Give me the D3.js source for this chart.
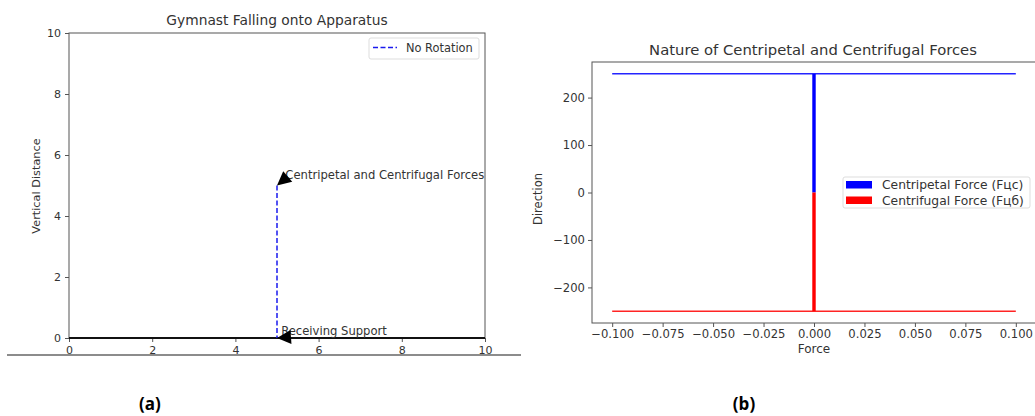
<!DOCTYPE html>
<head>
  <meta charset="utf-8">
  <script src="https://d3js.org/d3.v7.min.js"></script>
  <style>
    body { margin:0; background:#fff; }
    text { font-family: "DejaVu Sans", sans-serif; fill:#333; }
    .axis path, .axis line { stroke:#555; }
    .axis text { fill:#333; }
  </style>
</head>
<body>
  <script>
    // ---- panel (a) data
    var aTicks = [0, 2, 4, 6, 8, 10];
    var fallX = [5, 5], fallY = [5, 0];          // "No Rotation"
    var supportX = [0, 10], supportY = [0, 0];   // apparatus line
    var notes = [
      { text: "Centripetal and Centrifugal Forces", xy: [5, 5], xytext: [5.2, 5.2], angle: 40 },
      { text: "Receiving Support", xy: [5, 0], xytext: [5.1, 0.1], angle: 4 }
    ];

    // ---- panel (b) data
    var bXTicks = [-0.1, -0.075, -0.05, -0.025, 0, 0.025, 0.05, 0.075, 0.1];
    var bYTicks = [-200, -100, 0, 100, 200];
    var forceX = [-0.1, 0.1];
    var centripetal = 250, centrifugal = -250;
    var legendB = ["Centripetal Force (Fцс)", "Centrifugal Force (Fцб)"];

    var width = 1035, height = 416;
    var svg = d3.select("body").append("svg")
      .attr("width", width).attr("height", height);

    // ================= (a) =================
    var xa = d3.scaleLinear().domain([0, 10]).range([69, 485]);
    var ya = d3.scaleLinear().domain([0, 10]).range([338, 33]);
    var ga = svg.append("g");

    ga.append("rect").attr("x", 69).attr("y", 33).attr("width", 416).attr("height", 305)
      .attr("fill", "none").attr("stroke", "#555");

    ga.append("g").attr("class", "axis").attr("transform", "translate(0,338)")
      .call(d3.axisBottom(xa).tickValues(aTicks).tickSize(4).tickPadding(4).tickFormat(d3.format("d")))
      .call(g => g.select(".domain").remove())
      .selectAll("text").style("font-size", "11px");
    ga.append("g").attr("class", "axis").attr("transform", "translate(69,0)")
      .call(d3.axisLeft(ya).tickValues(aTicks).tickSize(4).tickPadding(4).tickFormat(d3.format("d")))
      .call(g => g.select(".domain").remove())
      .selectAll("text").style("font-size", "11px");

    var lineA = d3.line().x(d => xa(d[0])).y(d => ya(d[1]));
    ga.append("path").attr("d", lineA(d3.zip(supportX, supportY)))
      .attr("stroke", "#111").attr("stroke-width", 2).attr("fill", "none");
    ga.append("path").attr("d", lineA(d3.zip(fallX, fallY)))
      .attr("stroke", "#1a1aee").attr("stroke-width", 1.5).attr("stroke-dasharray", "5,2.5").attr("fill", "none");

    notes.forEach(function(n) {
      ga.append("text").attr("x", xa(n.xytext[0])).attr("y", ya(n.xytext[1]))
        .style("font-size", "11.6px").text(n.text);
      var tx = xa(n.xy[0]), ty = ya(n.xy[1]);
      ga.append("path").attr("d", "M0,0 L14,-7 L14,7 Z")
        .attr("transform", "translate(" + tx + "," + ty + ") rotate(" + (-n.angle) + ")")
        .attr("fill", "#000");
    });

    ga.append("text").attr("x", 277).attr("y", 25).attr("text-anchor", "middle")
      .style("font-size", "13.8px").text("Gymnast Falling onto Apparatus");
    ga.append("text").attr("transform", "translate(40,186) rotate(-90)").attr("text-anchor", "middle")
      .style("font-size", "11.3px").text("Vertical Distance");

    // legend (a)
    ga.append("rect").attr("x", 369).attr("y", 38).attr("width", 110).attr("height", 21).attr("rx", 2)
      .attr("fill", "#fff").attr("stroke", "#ddd");
    ga.append("line").attr("x1", 373).attr("x2", 397).attr("y1", 47.5).attr("y2", 47.5)
      .attr("stroke", "#1a1aee").attr("stroke-width", 1.5).attr("stroke-dasharray", "5,2.5");
    ga.append("text").attr("x", 406).attr("y", 51.5).style("font-size", "11.4px").text("No Rotation");

    // separator under panel (a)
    svg.append("line").attr("x1", 7).attr("x2", 521).attr("y1", 355).attr("y2", 355)
      .attr("stroke", "#666").attr("stroke-width", 1.5);

    // ================= (b) =================
    var xb = d3.scaleLinear().domain([-0.11, 0.11]).range([592, 1036]);
    var yb = d3.scaleLinear().domain([-275, 275]).range([323, 62]);
    var gb = svg.append("g");

    gb.append("rect").attr("x", 592).attr("y", 62).attr("width", 444).attr("height", 261)
      .attr("fill", "none").attr("stroke", "#555");

    gb.append("g").attr("class", "axis").attr("transform", "translate(0,323)")
      .call(d3.axisBottom(xb).tickValues(bXTicks).tickSize(4).tickPadding(3)
        .tickFormat(d => d3.format(".3f")(d).replace("-", "\u2212")))
      .call(g => g.select(".domain").remove())
      .selectAll("text").style("font-size", "11.6px");
    gb.append("g").attr("class", "axis").attr("transform", "translate(592,0)")
      .call(d3.axisLeft(yb).tickValues(bYTicks).tickSize(4).tickPadding(3)
        .tickFormat(d => String(d).replace("-", "\u2212")))
      .call(g => g.select(".domain").remove())
      .selectAll("text").style("font-size", "11.6px");

    // horizontal level lines
    var lineB = d3.line().x(d => xb(d[0])).y(d => yb(d[1]));
    gb.append("path").attr("d", lineB(forceX.map(x => [x, centripetal])))
      .attr("stroke", "#2424ff").attr("stroke-width", 1.5).attr("fill", "none");
    gb.append("path").attr("d", lineB(forceX.map(x => [x, centrifugal])))
      .attr("stroke", "#ff2424").attr("stroke-width", 1.5).attr("fill", "none");

    // bars at zero force
    var barW = 0.0017;
    gb.append("rect").attr("x", xb(-barW / 2)).attr("width", xb(barW / 2) - xb(-barW / 2))
      .attr("y", yb(centripetal)).attr("height", yb(0) - yb(centripetal)).attr("fill", "#0000ff");
    gb.append("rect").attr("x", xb(-barW / 2)).attr("width", xb(barW / 2) - xb(-barW / 2))
      .attr("y", yb(0)).attr("height", yb(centrifugal) - yb(0)).attr("fill", "#ff0000");

    gb.append("text").attr("x", 813).attr("y", 55).attr("text-anchor", "middle")
      .style("font-size", "14.8px").text("Nature of Centripetal and Centrifugal Forces");
    gb.append("text").attr("x", 814).attr("y", 353).attr("text-anchor", "middle")
      .style("font-size", "12px").text("Force");
    gb.append("text").attr("transform", "translate(542,199) rotate(-90)").attr("text-anchor", "middle")
      .style("font-size", "11.5px").text("Direction");

    // legend (b)
    gb.append("rect").attr("x", 843).attr("y", 177).attr("width", 187).attr("height", 31).attr("rx", 2)
      .attr("fill", "#fff").attr("stroke", "#ddd");
    var legColors = ["#0000ff", "#ff0000"];
    legendB.forEach(function(t, i) {
      gb.append("rect").attr("x", 846).attr("y", 181 + i * 15.5).attr("width", 26).attr("height", 7.5)
        .attr("fill", legColors[i]);
      gb.append("text").attr("x", 882).attr("y", 189 + i * 15.5).style("font-size", "12.3px").text(t);
    });

    // captions
    svg.append("text").attr("x", 150).attr("y", 410).attr("text-anchor", "middle")
      .style("font-family", "'Open Sans', sans-serif").style("font-weight", "bold").style("font-size", "17px")
      .style("fill", "#000").text("(a)");
    svg.append("text").attr("x", 744).attr("y", 410).attr("text-anchor", "middle")
      .style("font-family", "'Open Sans', sans-serif").style("font-weight", "bold").style("font-size", "17px")
      .style("fill", "#000").text("(b)");
  </script>
</body>
